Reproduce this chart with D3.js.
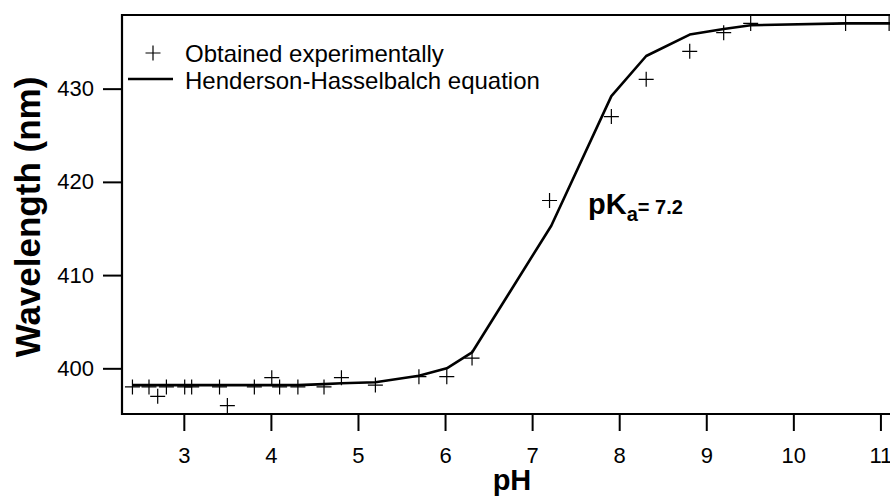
<!DOCTYPE html>
<html><head><meta charset="utf-8">
<script src="https://cdn.jsdelivr.net/npm/d3@7"></script>
<style>body{margin:0;background:#fff} svg{display:block} text{font-family:"Liberation Sans",Arial,Helvetica,sans-serif;fill:#000}</style>
</head><body><svg id="c" width="890" height="496"></svg>
<script>
// Experimental points
const expPH = [2.41, 2.60, 2.70, 2.80, 3.01, 3.09, 3.41, 3.50, 3.81, 4.01, 4.10, 4.31, 4.61, 4.81, 5.20, 5.70, 6.02, 6.31, 7.20, 7.91, 8.31, 8.81, 9.20, 9.51, 10.60, 11.10];
const expWL = [398, 398, 397, 398, 398, 398, 398, 396, 398, 399, 398, 398, 398, 399, 398.2, 399.1, 399.1, 401.1, 418, 427, 431, 434, 436, 437, 437, 437];
// Henderson-Hasselbalch fit (polyline)
const fitPH = [2.41, 2.60, 2.80, 3.01, 3.41, 3.81, 4.01, 4.31, 4.61, 4.81, 5.20, 5.70, 6.02, 6.31, 7.22, 7.91, 8.31, 8.81, 9.20, 9.51, 10.60, 11.15];
const fitWL = [398.2, 398.2, 398.2, 398.2, 398.2, 398.2, 398.2, 398.2, 398.3, 398.4, 398.5, 399.2, 400.0, 401.7, 415.3, 429.2, 433.5, 435.8, 436.4, 436.8, 437.0, 437.0];
const xTicks = [3, 4, 5, 6, 7, 8, 9, 10, 11];
const yTicks = [400, 410, 420, 430];
const legendLabels = ["Obtained experimentally", "Henderson-Hasselbalch equation"];
const xTitle = "pH";
const yTitle = "Wavelength (nm)";
const xDomain = [2.29, 11.11];
const yDomain = [395.1, 437.9];

const svg = d3.select("#c");
const L = 122, T = 15, R = 890, B = 414;
const x = d3.scaleLinear().domain(xDomain).range([L, R]);
const y = d3.scaleLinear().domain(yDomain).range([B, T]);

svg.append("defs").append("clipPath").attr("id", "clip")
  .append("rect").attr("x", L).attr("y", T).attr("width", R - L).attr("height", B - T);

// axes
const xAxis = svg.append("g").attr("transform", `translate(0,${B})`)
  .call(d3.axisBottom(x).tickValues(xTicks).tickSize(17).tickPadding(16).tickSizeOuter(0).tickFormat(d3.format("d")));
const yAxis = svg.append("g").attr("transform", `translate(${L},0)`)
  .call(d3.axisLeft(y).tickValues(yTicks).tickSize(19).tickPadding(9).tickSizeOuter(0).tickFormat(d3.format("d")));
[xAxis, yAxis].forEach(g => {
  g.select(".domain").remove();
  g.selectAll(".tick line").attr("stroke", "#000").attr("stroke-width", 2);
  g.selectAll(".tick text").attr("font-size", 22).attr("font-family", "'Liberation Sans',Arial,sans-serif").attr("fill", "#000");
});

// frame (left, top, bottom)
svg.append("path")
  .attr("d", `M${R},${T}H${L}V${B}H${R}`)
  .attr("fill", "none").attr("stroke", "#000").attr("stroke-width", 2.2);

const plot = svg.append("g").attr("clip-path", "url(#clip)");

// fitted line
const fitData = fitPH.map((p, i) => [p, fitWL[i]]);
plot.append("path").datum(fitData)
  .attr("d", d3.line().x(d => x(d[0])).y(d => y(d[1])))
  .attr("fill", "none").attr("stroke", "#000").attr("stroke-width", 2.6).attr("stroke-linejoin", "round");

// crosses
const arm = 7.5;
const cross = (cx, cy) => `M${cx - arm},${cy}H${cx + arm}M${cx},${cy - arm}V${cy + arm}`;
const svgAll = svg.append("g");
svgAll.selectAll("path.pt").data(expPH.map((p, i) => [p, expWL[i]])).join("path")
  .attr("class", "pt")
  .attr("d", d => cross(x(d[0]), y(d[1])))
  .attr("stroke", "#000").attr("stroke-width", 1.2).attr("fill", "none");

// legend
const lg = svg.append("g");
lg.append("path").attr("d", cross(153, 53)).attr("stroke", "#000").attr("stroke-width", 1.2);
lg.append("line").attr("x1", 128).attr("x2", 173).attr("y1", 79).attr("y2", 79).attr("stroke", "#000").attr("stroke-width", 2.6);
lg.selectAll("text").data(legendLabels).join("text")
  .attr("x", 185).attr("y", (d, i) => 62 + i * 27)
  .attr("font-size", 24).text(d => d);

// pKa annotation
const ann = svg.append("text").attr("x", 588).attr("y", 214).attr("font-weight", "bold");
ann.append("tspan").attr("font-size", 29).text("pK");
ann.append("tspan").attr("font-size", 20).attr("dy", 7).text("a");
ann.append("tspan").attr("font-size", 20).attr("dy", -7).text("= 7.2");

// axis titles
svg.append("text").attr("x", 512).attr("y", 490).attr("text-anchor", "middle")
  .attr("font-size", 29).attr("font-weight", "bold").text(xTitle);
svg.append("text").attr("transform", "translate(40,217) rotate(-90)").attr("text-anchor", "middle")
  .attr("font-size", 35).attr("font-weight", "bold").text(yTitle);
</script></body></html>
